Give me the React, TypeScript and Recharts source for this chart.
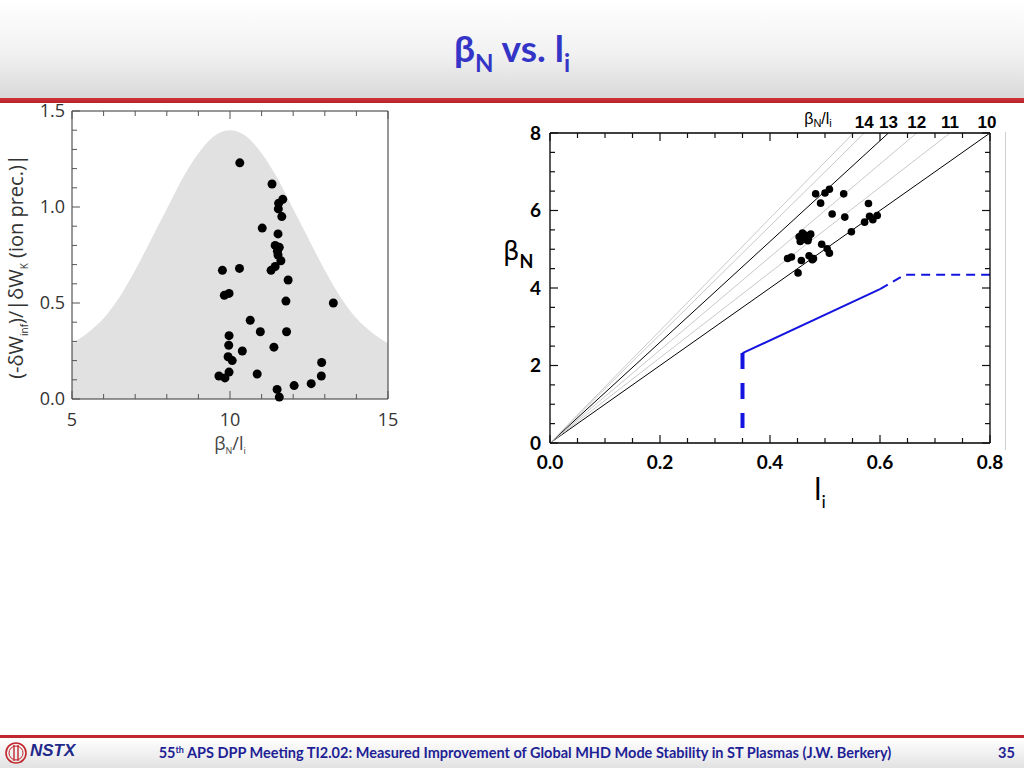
import React from "react";
import { ComposedChart, Area, Scatter, Line, XAxis, YAxis } from "recharts";

// left panel: grey stability band
const bandX = [5, 5.5, 6, 6.5, 7, 7.5, 8, 8.5, 9, 9.5, 10, 10.5, 11, 11.5, 12, 12.5, 13, 13.5, 14, 14.5, 15];
const bandY = [0.29, 0.345, 0.42, 0.53, 0.67, 0.83, 0.99, 1.15, 1.28, 1.37, 1.4, 1.37, 1.28, 1.15, 0.99, 0.83, 0.67, 0.53, 0.42, 0.345, 0.29];

// left panel: measured points (betaN/li, ratio)
const leftRatio = [10.31, 11.33, 11.67, 11.54, 11.53, 11.64, 11.02, 11.52, 11.43, 11.56, 11.5, 11.52, 11.61, 11.43, 11.3, 9.76, 10.3, 11.84, 9.82, 9.97, 11.77, 13.27, 10.64, 10.96, 11.79, 9.97, 9.96, 10.39, 11.39, 9.94, 10.07, 12.9, 9.65, 9.84, 9.97, 10.86, 12.89, 12.57, 12.03, 11.49, 11.56];
const leftDw = [1.23, 1.12, 1.04, 1.02, 0.99, 0.95, 0.89, 0.86, 0.8, 0.79, 0.77, 0.75, 0.72, 0.69, 0.67, 0.67, 0.68, 0.62, 0.54, 0.55, 0.51, 0.5, 0.41, 0.35, 0.35, 0.33, 0.28, 0.25, 0.27, 0.22, 0.2, 0.19, 0.12, 0.11, 0.14, 0.13, 0.12, 0.08, 0.07, 0.05, 0.01];

// right panel: measured points (li, betaN)
const rightLi = [0.483, 0.5, 0.508, 0.534, 0.492, 0.513, 0.536, 0.579, 0.572, 0.581, 0.587, 0.595, 0.548, 0.453, 0.459, 0.467, 0.474, 0.455, 0.464, 0.47, 0.46, 0.462, 0.469, 0.494, 0.504, 0.508, 0.432, 0.439, 0.457, 0.471, 0.479, 0.477, 0.451];
const rightBeta = [6.43, 6.45, 6.55, 6.43, 6.19, 5.91, 5.83, 6.18, 5.7, 5.85, 5.76, 5.87, 5.45, 5.32, 5.42, 5.35, 5.39, 5.2, 5.25, 5.29, 5.28, 5.38, 5.22, 5.13, 5.01, 4.9, 4.76, 4.8, 4.71, 4.83, 4.76, 4.73, 4.39];

// constant betaN/li lines
const ratios = [10, 11, 12, 13, 14, 14.5];
const darkRatios = [10, 13];
const labelledRatios = [10, 11, 12, 13, 14];

// blue operating boundary
const wallLi = [0.35, 0.35];
const wallBeta = [2.32, 0.39];
const solidLi = [0.35, 0.6];
const solidBeta = [2.32, 3.97];
const dashLi = [0.6, 0.645, 0.8];
const dashBeta = [3.97, 4.34, 4.34];

// ticks
const leftXTicks = [5, 6, 7, 8, 9, 10, 11, 12, 13, 14, 15];
const leftXMajor = [5, 10, 15];
const leftYTicks = [0, 0.1, 0.2, 0.3, 0.4, 0.5, 0.6, 0.7, 0.8, 0.9, 1.0, 1.1, 1.2, 1.3, 1.4, 1.5];
const leftYMajor = [0, 0.5, 1.0, 1.5];
const rightXTicks = [0, 0.05, 0.1, 0.15, 0.2, 0.25, 0.3, 0.35, 0.4, 0.45, 0.5, 0.55, 0.6, 0.65, 0.7, 0.75, 0.8];
const rightXMajor = [0, 0.2, 0.4, 0.6, 0.8];
const rightYTicks = [0, 0.5, 1, 1.5, 2, 2.5, 3, 3.5, 4, 4.5, 5, 5.5, 6, 6.5, 7, 7.5, 8];
const rightYMajor = [0, 2, 4, 6, 8];

const bandData = bandX.map((x, i) => ({ x, y: bandY[i] }));
const leftPoints = leftRatio.map((x, i) => ({ x, y: leftDw[i] }));
const rightPoints = rightLi.map((x, i) => ({ x, y: rightBeta[i] }));
const toPts = (xs: number[], ys: number[]) => xs.map((x, i) => ({ x, y: ys[i] }));

type Side = "bottom" | "top" | "left" | "right";
interface TickStyle {
  majorLen: number;
  minorLen: number;
  stroke: string;
  width: number;
  font: string;
  size: number;
  weight: number;
  color: string;
  gap: number;
}

function tickRenderer(side: Side, majors: number[], st: TickStyle, fmt?: (v: number) => string) {
  return (props: any) => {
    const { x, y, payload } = props;
    const v = Number(payload.value);
    const major = majors.some((m) => Math.abs(m - v) < 1e-9);
    const len = major ? st.majorLen : st.minorLen;
    let x2 = x;
    let y2 = y;
    if (side === "bottom") y2 = y - len;
    if (side === "top") y2 = y + len;
    if (side === "left") x2 = x + len;
    if (side === "right") x2 = x - len;
    const txt = { fontFamily: st.font, fontSize: st.size, fontWeight: st.weight, fill: st.color };
    let label = null;
    if (major && fmt) {
      label =
        side === "bottom" ? (
          <text x={x} y={y + st.gap} textAnchor="middle" style={txt}>{fmt(v)}</text>
        ) : (
          <text x={x - st.gap} y={y} dy="0.36em" textAnchor="end" style={txt}>{fmt(v)}</text>
        );
    }
    return (
      <g>
        <line x1={x} y1={y} x2={x2} y2={y2} stroke={st.stroke} strokeWidth={st.width} />
        {label}
      </g>
    );
  };
}

const leftTick: TickStyle = { majorLen: 8, minorLen: 5, stroke: "#555", width: 1, font: "'Open Sans', sans-serif", size: 18, weight: 400, color: "#333", gap: 27 };
const leftYLab: TickStyle = { ...leftTick, gap: 7 };
const rightTick: TickStyle = { majorLen: 8, minorLen: 5, stroke: "#111", width: 1.2, font: "Lato, sans-serif", size: 19, weight: 700, color: "#000", gap: 26 };
const rightYLab: TickStyle = { ...rightTick, gap: 9 };

const dot = (r: number) => (p: any) => <circle cx={p.cx} cy={p.cy} r={r} fill="#000" />;

function LeftPanel() {
  const ax = { stroke: "#333", strokeWidth: 1 };
  return (
    <ComposedChart width={420} height={370} data={bandData} margin={{ top: 20, right: 31, bottom: 60, left: 71 }}>
      <XAxis xAxisId="b" type="number" dataKey="x" domain={[5, 15]} ticks={leftXTicks} interval={0} height={1} tickSize={0} tickMargin={0} axisLine={ax} tickLine={false} tick={tickRenderer("bottom", leftXMajor, leftTick, (v) => String(v))} />
      <XAxis xAxisId="t" orientation="top" type="number" dataKey="x" domain={[5, 15]} ticks={leftXTicks} interval={0} height={1} tickSize={0} tickMargin={0} axisLine={ax} tickLine={false} tick={tickRenderer("top", leftXMajor, leftTick)} />
      <YAxis yAxisId="l" type="number" domain={[0, 1.5]} ticks={leftYTicks} interval={0} width={1} tickSize={0} tickMargin={0} axisLine={ax} tickLine={false} tick={tickRenderer("left", leftYMajor, leftYLab, (v) => v.toFixed(1))} />
      <YAxis yAxisId="r" orientation="right" type="number" domain={[0, 1.5]} ticks={leftYTicks} interval={0} width={1} tickSize={0} tickMargin={0} axisLine={ax} tickLine={false} tick={tickRenderer("right", leftYMajor, leftTick)} />
      <Area xAxisId="b" yAxisId="l" type="monotone" dataKey="y" stroke="none" fill="#e1e1e1" fillOpacity={1} isAnimationActive={false} />
      <Scatter xAxisId="b" yAxisId="l" data={leftPoints} dataKey="y" shape={dot(4.5)} isAnimationActive={false} />
    </ComposedChart>
  );
}

function RightPanel() {
  const ax = { stroke: "#000", strokeWidth: 1.3 };
  return (
    <ComposedChart width={530} height={410} margin={{ top: 32, right: 29, bottom: 66, left: 59 }}>
      <XAxis xAxisId="b" type="number" dataKey="x" domain={[0, 0.8]} ticks={rightXTicks} interval={0} height={1} tickSize={0} tickMargin={0} axisLine={ax} tickLine={false} tick={tickRenderer("bottom", rightXMajor, rightTick, (v) => v.toFixed(1))} allowDataOverflow />
      <XAxis xAxisId="t" orientation="top" type="number" dataKey="x" domain={[0, 0.8]} ticks={rightXTicks} interval={0} height={1} tickSize={0} tickMargin={0} axisLine={ax} tickLine={false} tick={tickRenderer("top", rightXMajor, rightTick)} allowDataOverflow />
      <YAxis yAxisId="l" type="number" domain={[0, 8]} ticks={rightYTicks} interval={0} width={1} tickSize={0} tickMargin={0} axisLine={ax} tickLine={false} tick={tickRenderer("left", rightYMajor, rightYLab, (v) => String(v))} allowDataOverflow />
      <YAxis yAxisId="r" orientation="right" type="number" domain={[0, 8]} ticks={rightYTicks} interval={0} width={1} tickSize={0} tickMargin={0} axisLine={ax} tickLine={false} tick={tickRenderer("right", rightYMajor, rightTick)} allowDataOverflow />
      {ratios.map((r) => (
        <Line
          key={r}
          xAxisId="b"
          yAxisId="l"
          data={[{ x: 0, y: 0 }, { x: 8 / r, y: 8 }]}
          dataKey="y"
          type="linear"
          stroke={darkRatios.includes(r) ? "#000" : "#c8c8c8"}
          strokeWidth={1}
          dot={false}
          isAnimationActive={false}
          label={(p: any) =>
            p.index === 1 && labelledRatios.includes(r) ? (
              <text key={"lab" + r} x={r === 10 ? p.x - 3 : p.x} y={p.y - 5} textAnchor="middle" style={{ fontFamily: "'Liberation Sans', Arial, sans-serif", fontSize: 17, fontWeight: 700, fill: "#000" }}>
                {r}
              </text>
            ) : (
              <g key={"nolab" + r + p.index} />
            )
          }
        />
      ))}
      <Line xAxisId="b" yAxisId="l" data={toPts(wallLi, wallBeta)} dataKey="y" type="linear" stroke="#1414e0" strokeWidth={4} strokeDasharray="16 14" dot={false} isAnimationActive={false} />
      <Line xAxisId="b" yAxisId="l" data={toPts(solidLi, solidBeta)} dataKey="y" type="linear" stroke="#1414e0" strokeWidth={2} dot={false} isAnimationActive={false} />
      <Line xAxisId="b" yAxisId="l" data={toPts(dashLi, dashBeta)} dataKey="y" type="linear" stroke="#1414e0" strokeWidth={2} strokeDasharray="9 6" dot={false} isAnimationActive={false} />
      <Scatter xAxisId="b" yAxisId="l" data={rightPoints} dataKey="y" shape={dot(3.8)} isAnimationActive={false} />
    </ComposedChart>
  );
}

const sub = (size: number, drop: number): React.CSSProperties => ({ fontSize: size, position: "relative", top: drop });

export default function App() {
  return (
    <div style={{ position: "relative", width: 1024, height: 768, overflow: "hidden", background: "#fff" }}>
      <style>{`body { margin: 0; }`}</style>

      {/* header */}
      <div style={{ position: "absolute", left: 0, top: 0, width: 1024, height: 98, background: "linear-gradient(to bottom, #ffffff 0%, #f1f1f1 55%, #d9d9d9 100%)" }} />
      <div style={{ position: "absolute", left: 0, top: 25, width: 1024, textAlign: "center", fontFamily: "Lato, sans-serif", fontWeight: 700, fontSize: 37, color: "#3434c6", whiteSpace: "nowrap" }}>
        β<span style={sub(24, 10)}>N</span> vs. l<span style={sub(24, 10)}>i</span>
      </div>

      {/* left panel */}
      <div style={{ position: "absolute", left: 0, top: 90 }}>
        <LeftPanel />
      </div>
      <div style={{ position: "absolute", left: 0, top: 98, width: 1024, height: 5, background: "linear-gradient(to bottom, #d2343a, #b3222a)" }} />
      <div style={{ position: "absolute", left: 15, top: 267, width: 0, height: 0 }}>
        <div style={{ position: "absolute", left: -200, top: -14, width: 400, textAlign: "center", transform: "rotate(-90deg)", fontFamily: "'Open Sans', sans-serif", fontSize: 20, color: "#333", whiteSpace: "nowrap" }}>
          (-δW<span style={sub(10, 5)}>inf</span>)/|δW<span style={sub(10, 5)}>K</span> (ion prec.)|
        </div>
      </div>
      <div style={{ position: "absolute", left: 130, top: 431, width: 200, textAlign: "center", fontFamily: "'Open Sans', sans-serif", fontSize: 18, color: "#444", whiteSpace: "nowrap" }}>
        β<span style={sub(9, 4)}>N</span>/l<span style={sub(9, 4)}>i</span>
      </div>

      {/* right panel */}
      <div style={{ position: "absolute", left: 490, top: 100 }}>
        <RightPanel />
      </div>
      <div style={{ position: "absolute", left: 780, top: 110, width: 76, textAlign: "center", fontFamily: "'Liberation Sans', Arial, sans-serif", fontSize: 16, color: "#000", whiteSpace: "nowrap" }}>
        β<span style={sub(11, 3)}>N</span>/l<span style={sub(11, 3)}>i</span>
      </div>
      <div style={{ position: "absolute", left: 1005, top: 132, width: 1, height: 318, background: "#cfcfcf" }} />
      <div style={{ position: "absolute", left: 503, top: 236, width: 40, fontFamily: "'DejaVu Sans', sans-serif", fontSize: 26, color: "#000", whiteSpace: "nowrap" }}>
        β<span style={{ ...sub(18, 8), fontFamily: "Lato, sans-serif", fontWeight: 700 }}>N</span>
      </div>
      <div style={{ position: "absolute", left: 770, top: 470, width: 100, textAlign: "center", fontFamily: "Lato, sans-serif", fontSize: 30, color: "#000", whiteSpace: "nowrap" }}>
        l<span style={sub(18, 8)}>i</span>
      </div>

      {/* footer */}
      <div style={{ position: "absolute", left: 0, top: 735, width: 1024, height: 3, background: "#c1272d" }} />
      <div style={{ position: "absolute", left: 0, top: 738, width: 1024, height: 30, background: "linear-gradient(to bottom, #ffffff 0%, #eeeeee 60%, #e2e2e2 100%)" }} />
      <svg style={{ position: "absolute", left: 4, top: 741 }} width={26} height={24}>
        <circle cx={12} cy={12} r={10} fill="none" stroke="#c1272d" strokeWidth={1.6} />
        <circle cx={12} cy={12} r={7} fill="none" stroke="#c1272d" strokeWidth={1} />
        <line x1={10} y1={4} x2={10} y2={20} stroke="#c1272d" strokeWidth={1.4} />
        <line x1={14} y1={4} x2={14} y2={20} stroke="#c1272d" strokeWidth={1.4} />
      </svg>
      <div style={{ position: "absolute", left: 30, top: 741, fontFamily: "'Liberation Sans', Arial, sans-serif", fontStyle: "italic", fontWeight: 700, fontSize: 17, color: "#1f2a8a" }}>NSTX</div>
      <div style={{ position: "absolute", left: 140, top: 744, width: 770, textAlign: "center", fontFamily: "Lato, sans-serif", fontWeight: 700, fontSize: 14.5, color: "#1f1f96", whiteSpace: "nowrap" }}>
        55<span style={{ fontSize: 9, position: "relative", top: -5 }}>th</span> APS DPP Meeting TI2.02: Measured Improvement of Global MHD Mode Stability in ST Plasmas (J.W. Berkery)
      </div>
      <div style={{ position: "absolute", left: 998, top: 744, fontFamily: "Lato, sans-serif", fontWeight: 700, fontSize: 14.5, color: "#1f1f96" }}>35</div>
    </div>
  );
}
